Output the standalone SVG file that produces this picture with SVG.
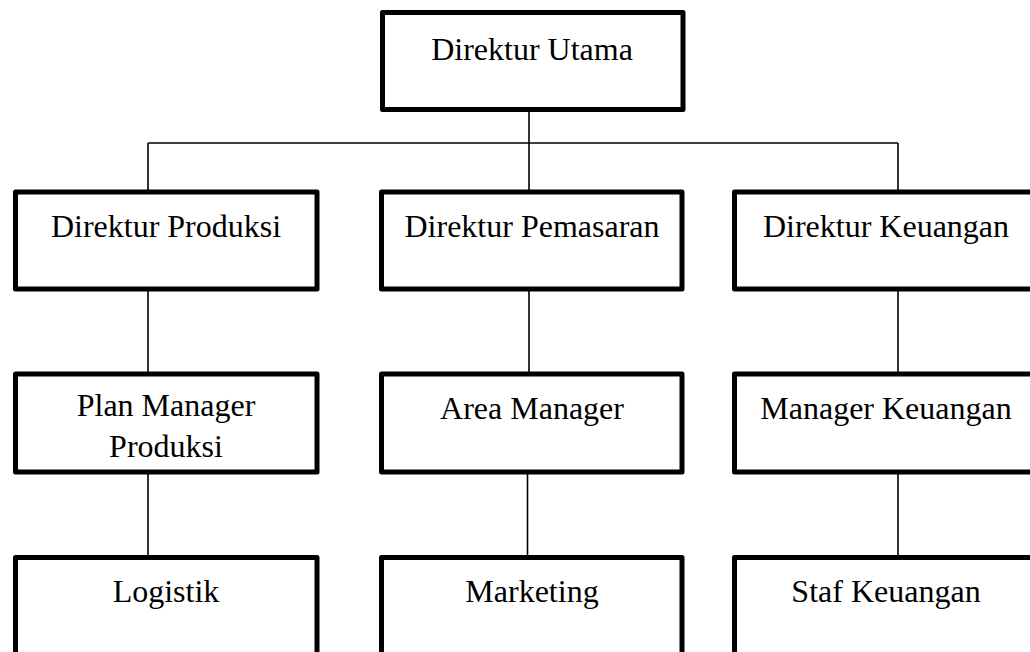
<svg xmlns="http://www.w3.org/2000/svg" width="1030" height="652" viewBox="0 0 1030 652">
<style>
.box{fill:#fff;stroke:#000;stroke-width:5;stroke-linejoin:round}
.lbl{font-family:"Liberation Serif","Times New Roman",serif;font-size:32px;fill:#000;text-anchor:middle}
.con{stroke:#000;stroke-width:1.6;fill:none}
</style>
<rect width="1030" height="652" fill="#fff"/>
<g id="connectors">
<path class="con" d="M529 110V143M148 143H898M148 143V192M529 143V192M898 143V192"/>
<path class="con" d="M148 289V374M529 289V374M898 289V374"/>
<path class="con" d="M148 472V557M527.5 472V557M898 472V557"/>
</g>
<g id="direktur-utama"><rect class="box" x="382.5" y="12.5" width="300.5" height="97"/><text class="lbl" x="532" y="60">Direktur Utama</text></g>
<g id="direktur-produksi"><rect class="box" x="15.5" y="192" width="301.5" height="97"/><text class="lbl" x="166" y="237">Direktur Produksi</text></g>
<g id="direktur-pemasaran"><rect class="box" x="381.5" y="192" width="300.5" height="97"/><text class="lbl" x="532" y="237">Direktur Pemasaran</text></g>
<g id="direktur-keuangan"><rect class="box" x="734.5" y="192" width="301" height="97"/><text class="lbl" x="886" y="237">Direktur Keuangan</text></g>
<g id="plan-manager-produksi"><rect class="box" x="15.5" y="374" width="301.5" height="98"/><text class="lbl" x="166" y="416">Plan Manager</text><text class="lbl" x="166" y="457">Produksi</text></g>
<g id="area-manager"><rect class="box" x="381.5" y="374" width="300.5" height="98"/><text class="lbl" x="532" y="419">Area Manager</text></g>
<g id="manager-keuangan"><rect class="box" x="734.5" y="374" width="301" height="98"/><text class="lbl" x="886" y="419">Manager Keuangan</text></g>
<g id="logistik"><rect class="box" x="15.5" y="557.5" width="301.5" height="110"/><text class="lbl" x="166" y="602">Logistik</text></g>
<g id="marketing"><rect class="box" x="381.5" y="557.5" width="300.5" height="110"/><text class="lbl" x="532" y="602">Marketing</text></g>
<g id="staf-keuangan"><rect class="box" x="734.5" y="557.5" width="301" height="110"/><text class="lbl" x="886" y="602">Staf Keuangan</text></g>
</svg>
